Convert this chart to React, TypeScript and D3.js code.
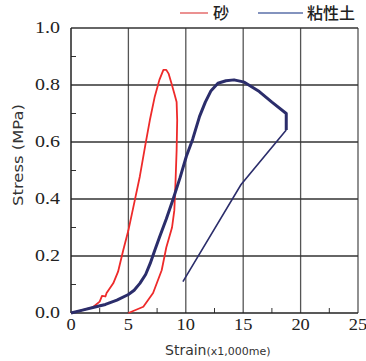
import React from 'react'
import * as d3 from 'd3'

// 砂 (sand)
const sandStrain = [0, 1, 1.9, 2.5, 2.7, 3.0, 3.1, 3.68, 4.1, 4.55, 5.0, 5.56, 6.0, 6.5, 6.87, 7.3, 7.7, 8.05, 8.3, 8.5, 8.75, 9.0, 9.2, 9.25, 9.2, 9.1, 9.0, 8.8, 8.3, 7.9, 7.15, 6.3, 5.0]
const sandStress = [0, 0.01, 0.02, 0.04, 0.06, 0.058, 0.07, 0.104, 0.145, 0.22, 0.29, 0.396, 0.48, 0.595, 0.677, 0.76, 0.818, 0.853, 0.853, 0.84, 0.806, 0.77, 0.74, 0.677, 0.57, 0.455, 0.36, 0.3, 0.23, 0.15, 0.07, 0.022, 0]

// 粘性土 (clay) loading
const clayStrain = [0, 1, 2, 3, 4, 5, 5.5, 6, 6.5, 6.9, 7.3, 7.7, 8.3, 8.9, 9.5, 10.05, 10.6, 11.2, 11.7, 12.2, 12.8, 13.5, 14.2, 15.1, 16.4, 17.5, 18.75, 18.75]
const clayStress = [0, 0.01, 0.02, 0.03, 0.045, 0.065, 0.08, 0.104, 0.135, 0.174, 0.22, 0.265, 0.33, 0.4, 0.475, 0.55, 0.61, 0.69, 0.74, 0.78, 0.806, 0.815, 0.818, 0.81, 0.777, 0.74, 0.7, 0.642]
// 粘性土 unloading
const clayUnloadStrain = [18.75, 14.8, 9.75]
const clayUnloadStress = [0.642, 0.45, 0.11]

const xTicks = [0, 5, 10, 15, 20, 25]
const yTicks = [0, 0.2, 0.4, 0.6, 0.8, 1.0]
const xMinor = [2.5, 7.5, 12.5, 17.5, 22.5]
const yMinor = [0.1, 0.3, 0.5, 0.7, 0.9]

const legendNames = ['砂', '粘性土']

const RED = '#ee2a2a'
const NAVY = '#2b2d6b'

export default function App() {
  const x = d3.scaleLinear().domain([0, 25]).range([71, 358])
  const y = d3.scaleLinear().domain([0, 1]).range([313, 28])
  const line = d3.line<[number, number]>().x(d => x(d[0])).y(d => y(d[1]))

  const sand = sandStrain.map((s, i) => [s, sandStress[i]] as [number, number])
  const clay = clayStrain.map((s, i) => [s, clayStress[i]] as [number, number])
  const unload = clayUnloadStrain.map((s, i) => [s, clayUnloadStress[i]] as [number, number])

  return (
    <svg width={366} height={361} style={{ position: 'absolute', left: 0, top: 0, background: '#fff' }}>
      {/* grid */}
      {xTicks.slice(1).map(t => (
        <line key={'gx' + t} x1={x(t)} x2={x(t)} y1={y(0)} y2={y(1)} stroke="#555" strokeWidth={1.3} />
      ))}
      {yTicks.slice(1).map(t => (
        <line key={'gy' + t} x1={x(0)} x2={x(25)} y1={y(t)} y2={y(t)} stroke="#333" strokeWidth={1.3} />
      ))}
      {xMinor.map(t => (
        <line key={'mx' + t} x1={x(t)} x2={x(t)} y1={y(0)} y2={y(0) - 5} stroke="#333" />
      ))}
      {yMinor.map(t => (
        <line key={'my' + t} x1={x(0)} x2={x(0) + 5} y1={y(t)} y2={y(t)} stroke="#333" />
      ))}
      <line x1={x(0)} x2={x(0)} y1={y(0)} y2={y(1)} stroke="#222" strokeWidth={1.5} />
      <line x1={x(0)} x2={x(25)} y1={y(0)} y2={y(0)} stroke="#222" strokeWidth={1.5} />

      {/* tick labels */}
      <g fontFamily="'Liberation Serif', 'DejaVu Serif', serif" fontSize={16} fill="#222">
        {xTicks.map(t => (
          <text key={'tx' + t} transform={`translate(${x(t)},330) scale(1.15,1)`} textAnchor="middle">{t}</text>
        ))}
        {yTicks.map(t => (
          <text key={'ty' + t} transform={`translate(60,${y(t) + 5}) scale(1.25,1)`} textAnchor="end">{t.toFixed(1)}</text>
        ))}
      </g>

      {/* axis titles */}
      <text transform="translate(23,155) rotate(-90)" textAnchor="middle" fontFamily="'DejaVu Sans', sans-serif" fontSize={14} fill="#333" textLength={102} lengthAdjust="spacingAndGlyphs">Stress (MPa)</text>
      <text x={165} y={355} fontFamily="'DejaVu Sans', sans-serif" fill="#333">
        <tspan fontSize={14}>Strain</tspan>
        <tspan fontSize={11}>(x1,000me)</tspan>
      </text>

      {/* curves */}
      <path d={line(sand) || ''} fill="none" stroke={RED} strokeWidth={1.8} strokeLinejoin="round" />
      <path d={line(clay) || ''} fill="none" stroke={NAVY} strokeWidth={3} strokeLinejoin="round" />
      <path d={line(unload) || ''} fill="none" stroke={NAVY} strokeWidth={1.6} />

      {/* legend */}
      <line x1={180} x2={208} y1={13} y2={13} stroke="#e05555" strokeWidth={1.3} />
      <line x1={258} x2={303} y1={13} y2={13} stroke="#5a6fa8" strokeWidth={1.3} />
      <g fontFamily="'Noto Sans CJK JP', sans-serif" fontSize={16} fontWeight={500} fill="#222">
        <text x={213} y={19}>{legendNames[0]}</text>
        <text x={307} y={19}>{legendNames[1]}</text>
      </g>
    </svg>
  )
}
